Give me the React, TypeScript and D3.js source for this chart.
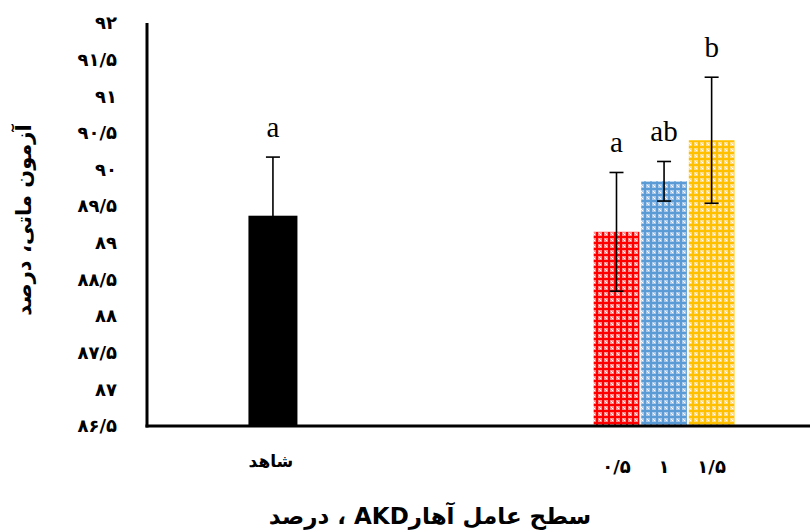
import React from "react";
import * as d3 from "d3";

const groups = ["شاهد", "AKD"];
const controlLabel = "شاهد";
const controlValue = 89.37;
const controlError = 0.8;
const controlLetter = "a";
const levels = ["۰/۵", "۱", "۱/۵"];
const levelValues = [89.15, 89.84, 90.4];
const levelErrors = [0.81, 0.27, 0.86];
const levelLetters = ["a", "ab", "b"];
const levelColors = ["#ff0000", "#5b9bd5", "#ffc000"];
const levelTints = ["#ff8c8c", "#a9c8ea", "#ffdc85"];
const yTicks = [86.5, 87, 87.5, 88, 88.5, 89, 89.5, 90, 90.5, 91, 91.5, 92];
const yTitle = "آزمون ماتی، درصد";
const xTitle = "سطح عامل آهارAKD ، درصد";

const W = 810;
const H = 532;
const left = 147;
const top = 23;
const bottom = 426;

const toFa = (s: string) => s.replace(/\d/g, (d) => "۰۱۲۳۴۵۶۷۸۹"[+d]).replace(".", "/");

export default function App() {
  const y = d3.scaleLinear().domain([86.5, 92]).range([bottom, top]);
  const xGroup = d3.scaleBand<string>().domain(groups).range([left, 790]).paddingInner(0.64).paddingOuter(0.142);
  const xInner = d3.scaleBand<string>().domain(levels).range([0, xGroup.bandwidth()]).paddingInner(0.04);
  const ctrlW = 49;
  const ctrlX = (xGroup("شاهد") as number) + xGroup.bandwidth() / 2 - ctrlW / 2;
  const akd0 = xGroup("AKD") as number;
  const font = "'DejaVu Sans', sans-serif";
  const serif = "'Liberation Serif', 'Times New Roman', serif";
  const cap = 7;

  const errBar = (cx: number, v: number, e: number, key: string) => (
    <g key={key} stroke="#000" strokeWidth={1.6}>
      <line x1={cx} x2={cx} y1={y(v + e)} y2={y(v - e)} />
      <line x1={cx - cap} x2={cx + cap} y1={y(v + e)} y2={y(v + e)} />
      <line x1={cx - cap} x2={cx + cap} y1={y(v - e)} y2={y(v - e)} />
    </g>
  );

  return (
    <svg width={W} height={H} style={{ position: "absolute", left: 0, top: 0, background: "#fff" }}>
      <defs>
        {levelColors.map((c, i) => (
          <pattern key={i} id={`pat${i}`} width={6} height={6} patternUnits="userSpaceOnUse">
            <rect width={6} height={6} fill={levelTints[i]} />
            <rect x={2} y={0} width={2} height={6} fill={c} />
            <rect x={0} y={2} width={6} height={2} fill={c} />
            <rect x={5} y={5} width={1} height={1} fill="#fff" />
            <rect x={0} y={0} width={1} height={1} fill="#fff" />
          </pattern>
        ))}
      </defs>

      {/* control bar */}
      <rect x={ctrlX} y={y(controlValue)} width={ctrlW} height={bottom - y(controlValue)} fill="#000" />
      {errBar(ctrlX + ctrlW / 2, controlValue, controlError, "ce")}
      <text x={ctrlX + ctrlW / 2} y={y(controlValue + controlError) - 20} textAnchor="middle" fontFamily={serif} fontSize={29}>
        {controlLetter}
      </text>

      {/* AKD bars */}
      {levels.map((l, i) => {
        const x = akd0 + (xInner(l) as number);
        const bw = xInner.bandwidth();
        return (
          <g key={l}>
            <rect x={x} y={y(levelValues[i])} width={bw} height={bottom - y(levelValues[i])} fill={`url(#pat${i})`} />
          </g>
        );
      })}
      {levels.map((l, i) => {
        const cx = akd0 + (xInner(l) as number) + xInner.bandwidth() / 2;
        return (
          <g key={"e" + l}>
            {errBar(cx, levelValues[i], levelErrors[i], "e" + i)}
            <text x={cx} y={y(levelValues[i] + levelErrors[i]) - 20} textAnchor="middle" fontFamily={serif} fontSize={29}>
              {levelLetters[i]}
            </text>
            <text x={cx} y={473} textAnchor="middle" fontFamily={font} fontSize={18} fontWeight="bold">
              {l}
            </text>
          </g>
        );
      })}

      <text x={ctrlX + ctrlW / 2 - 2} y={467} textAnchor="middle" fontFamily={font} fontSize={17} fontWeight="bold" direction="rtl">
        {controlLabel}
      </text>

      {/* axes */}
      <line x1={left} x2={left} y1={top} y2={bottom + 1.5} stroke="#000" strokeWidth={3} />
      <line x1={left - 1.5} x2={W} y1={bottom} y2={bottom} stroke="#000" strokeWidth={3} />

      {yTicks.map((t) => (
        <text key={t} x={117} y={y(t)} dy="0.35em" textAnchor="end" fontFamily={font} fontSize={18} fontWeight="bold">
          {toFa(String(t))}
        </text>
      ))}

      <text
        transform={`translate(31, 220) rotate(-90)`}
        textAnchor="middle"
        fontFamily={font}
        fontSize={21}
        fontWeight="bold"
        direction="rtl"
      >
        {yTitle}
      </text>
      <text x={430} y={524} textAnchor="middle" fontFamily={font} fontSize={23} fontWeight="bold" direction="rtl">
        {xTitle}
      </text>
    </svg>
  );
}
